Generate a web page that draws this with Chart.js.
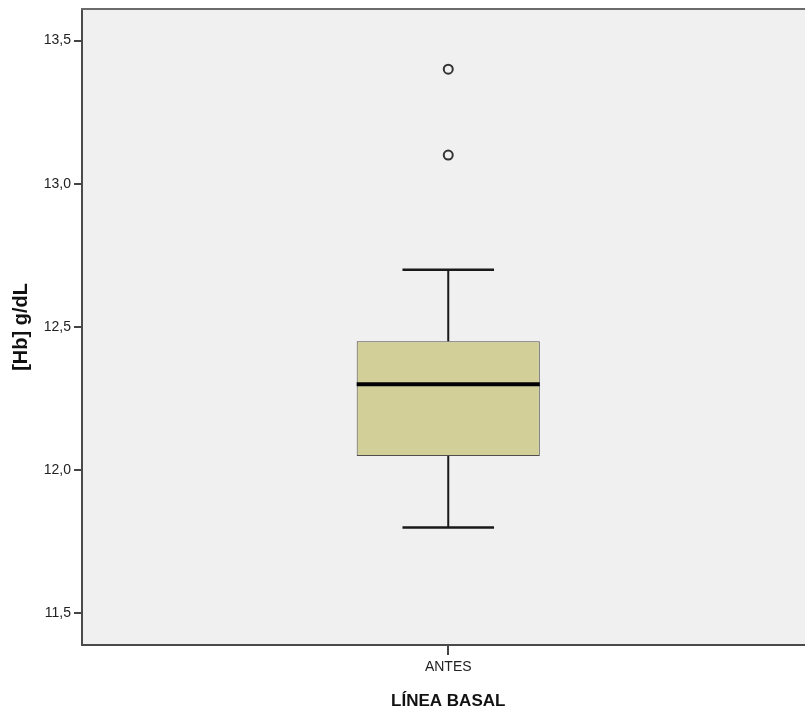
<!DOCTYPE html>
<html>
<head>
<meta charset="utf-8">
<script src="https://cdn.jsdelivr.net/npm/chart.js@4/dist/chart.umd.min.js"></script>
<style>
  html, body { margin: 0; padding: 0; background: #ffffff; overflow: hidden; }
  #wrap { width: 821px; height: 715px; }
</style>
</head>
<body>
<div id="wrap"><canvas id="c" width="821" height="715"></canvas></div>
<script>
// Hemoglobin at baseline: one box-and-whisker group
const categories = ['ANTES'];
const boxQ1 = [12.05];
const boxQ3 = [12.45];
const medians = [12.3];
const whiskerLow = [11.8];
const whiskerHigh = [12.7];
const outliers = [13.4, 13.1];
const yTicks = [11.5, 12.0, 12.5, 13.0, 13.5];

const tickFont = { family: "'Liberation Sans', Arial, sans-serif", size: 14 };

// Grey plot panel plus a frame line across the top
const panelPlugin = {
  id: 'panel',
  beforeDraw(chart) {
    const { ctx, chartArea: a } = chart;
    ctx.save();
    ctx.fillStyle = '#f0f0f0';
    ctx.fillRect(a.left, a.top, a.right - a.left, a.bottom - a.top);
    ctx.restore();
  },
  afterDraw(chart) {
    const { ctx, chartArea: a } = chart;
    ctx.save();
    ctx.strokeStyle = '#6b6b6b';
    ctx.lineWidth = 2;
    ctx.beginPath();
    ctx.moveTo(a.left - 1, a.top);
    ctx.lineTo(a.right, a.top);
    ctx.stroke();
    ctx.restore();
  }
};

// Whiskers and median line for each box, placed with the chart's own scales
const whiskerPlugin = {
  id: 'whiskers',
  afterDatasetsDraw(chart) {
    const { ctx } = chart;
    const y = chart.scales.y;
    const meta = chart.getDatasetMeta(0);
    ctx.save();
    meta.data.forEach((bar, i) => {
      const half = bar.width / 2;
      const cx = bar.x;
      const pQ1 = y.getPixelForValue(boxQ1[i]);
      const pQ3 = y.getPixelForValue(boxQ3[i]);
      const pLo = y.getPixelForValue(whiskerLow[i]);
      const pHi = y.getPixelForValue(whiskerHigh[i]);
      const pMed = y.getPixelForValue(medians[i]);
      ctx.strokeStyle = '#1a1a1a';
      ctx.lineWidth = 2;
      ctx.beginPath();
      ctx.moveTo(cx, pQ3); ctx.lineTo(cx, pHi);
      ctx.moveTo(cx, pQ1); ctx.lineTo(cx, pLo);
      ctx.stroke();
      ctx.lineWidth = 2.5;
      ctx.beginPath();
      ctx.moveTo(cx - half / 2, pHi); ctx.lineTo(cx + half / 2, pHi);
      ctx.moveTo(cx - half / 2, pLo); ctx.lineTo(cx + half / 2, pLo);
      ctx.stroke();
      ctx.strokeStyle = '#000000';
      ctx.lineWidth = 4;
      ctx.beginPath();
      ctx.moveTo(cx - half, pMed); ctx.lineTo(cx + half, pMed);
      ctx.stroke();
    });
    ctx.restore();
  }
};

new Chart(document.getElementById('c'), {
  data: {
    labels: categories,
    datasets: [
      {
        type: 'bar',
        data: categories.map((c, i) => [boxQ1[i], boxQ3[i]]),
        backgroundColor: '#d3cf98',
        borderColor: '#4f4f4f',
        borderWidth: 1,
        borderSkipped: false,
        barPercentage: 1,
        categoryPercentage: 0.25
      },
      {
        type: 'line',
        showLine: false,
        data: outliers.map(v => ({ x: categories[0], y: v })),
        pointRadius: 4.5,
        pointBorderWidth: 2,
        pointBorderColor: '#333333',
        pointBackgroundColor: 'rgba(0,0,0,0)'
      }
    ]
  },
  options: {
    responsive: false,
    devicePixelRatio: 1,
    animation: false,
    layout: { padding: { top: 9, right: 1, left: 0, bottom: 0 } },
    plugins: { legend: { display: false }, tooltip: { enabled: false } },
    scales: {
      x: {
        type: 'category',
        grid: { offset: false, drawOnChartArea: false, drawTicks: true, tickLength: 10, color: '#444444', lineWidth: 2 },
        border: { color: '#4a4a4a', width: 2 },
        ticks: { font: tickFont, color: '#222222', padding: 4 },
        title: { display: true, text: 'LÍNEA BASAL', color: '#111111',
                 font: { family: "'Liberation Sans', Arial, sans-serif", size: 17, weight: 'bold' },
                 padding: { top: 0, bottom: 3 } },
        afterFit(scale) {
          scale.height = 70;
          scale.paddingLeft = 0;
          scale.paddingRight = 0;
        }
      },
      y: {
        type: 'linear',
        min: 11.39,
        max: 13.61,
        grid: { drawOnChartArea: false, drawTicks: true, tickLength: 8, color: '#444444', lineWidth: 2 },
        border: { color: '#4a4a4a', width: 2 },
        ticks: {
          font: tickFont, color: '#222222', padding: 3,
          callback: v => v.toFixed(1).replace('.', ',')
        },
        afterBuildTicks(scale) { scale.ticks = yTicks.map(v => ({ value: v })); },
        title: { display: true, text: '[Hb] g/dL', color: '#111111',
                 font: { family: "'Liberation Sans', Arial, sans-serif", size: 20, weight: 'bold' },
                 padding: { top: 9, bottom: 0 } },
        afterFit(scale) {
          scale.width = 82;
          scale.paddingTop = 0;
          scale.paddingBottom = 0;
        }
      }
    }
  },
  plugins: [panelPlugin, whiskerPlugin]
});
</script>
</body>
</html>
